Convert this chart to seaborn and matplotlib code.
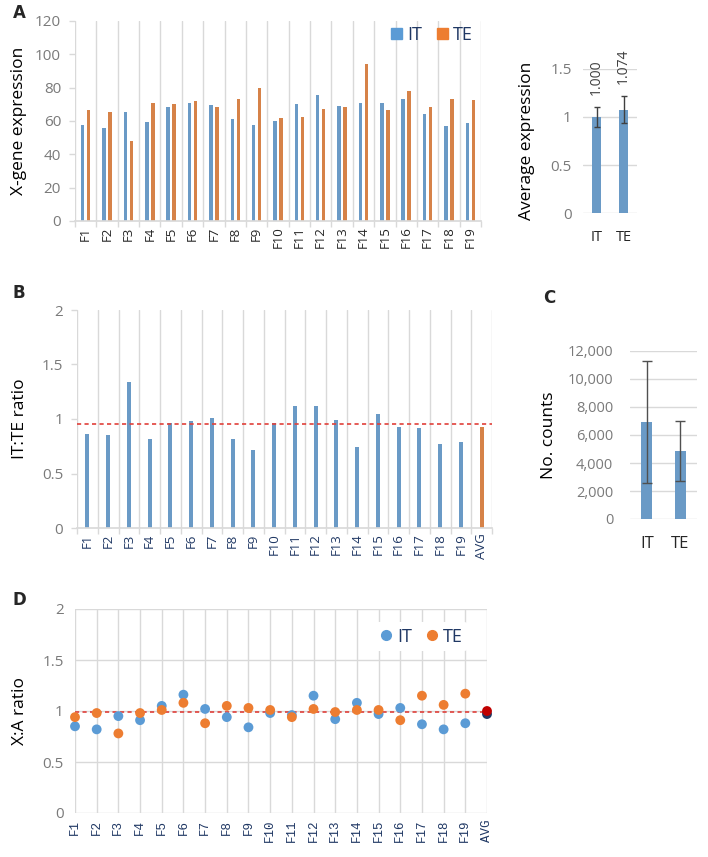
import numpy as np
import pandas as pd
import matplotlib
matplotlib.use('Agg')
import matplotlib.pyplot as plt
from matplotlib.patches import Patch
from matplotlib.lines import Line2D
from matplotlib.ticker import FuncFormatter
import seaborn as sns

# data
families = ['F%d' % i for i in range(1, 20)]
it_expr = [57.8, 55.8, 65.4, 59.2, 68.2, 70.8, 69.8, 61.4, 57.8, 60.2,
           70.2, 75.8, 69.2, 70.6, 70.8, 73.4, 64.0, 57.0, 58.6]
te_expr = [66.8, 65.4, 48.2, 70.6, 70.2, 71.8, 68.2, 73.4, 79.6, 61.8,
           62.6, 67.2, 68.6, 94.4, 66.8, 77.8, 68.6, 73.0, 72.6]

groups = ['IT', 'TE']
avg_expr = [1.000, 1.074]
avg_expr_err = [0.10, 0.14]

ratio_labels = families + ['AVG']
it_te_ratio = [0.86, 0.85, 1.34, 0.82, 0.96, 0.98, 1.01, 0.82, 0.72, 0.96,
               1.12, 1.12, 0.99, 0.74, 1.05, 0.93, 0.92, 0.77, 0.79, 0.93]
ratio_ref = 0.95

counts = [6920, 4850]
counts_err = [4340, 2115]

xa_it = [0.85, 0.82, 0.95, 0.91, 1.05, 1.16, 1.02, 0.94, 0.84, 0.98,
         0.96, 1.15, 0.92, 1.08, 0.97, 1.03, 0.87, 0.82, 0.88, 0.97]
xa_te = [0.94, 0.98, 0.78, 0.98, 1.01, 1.08, 0.88, 1.05, 1.03, 1.01,
         0.94, 1.02, 0.99, 1.01, 1.01, 0.91, 1.15, 1.06, 1.17, 1.00]
xa_ref = 0.99

BLUE = '#5b9bd5'
ORANGE = '#ed7d31'
NAVY = '#203864'
DARKRED = '#c00000'
GRID = '#d9d9d9'
TICK = '#7a7a7a'
RED = '#e0403a'

sns.set_theme(style='white')
plt.rcParams['font.family'] = ['Open Sans', 'DejaVu Sans']

W, H = 708, 857
fig = plt.figure(figsize=(W / 100, H / 100), dpi=100)


def rect(l, t, r, b):
    return [l / W, 1 - b / H, (r - l) / W, (b - t) / H]


def place_ylabel(ax, text, box, x_px, size=12.5):
    l, t, r, b = box
    ax.set_ylabel(text, fontsize=size, color='black')
    ax.yaxis.set_label_coords((x_px - l) / (r - l), 0.5)


def style_yticks(ax, size=11):
    ax.tick_params(axis='y', labelsize=size, labelcolor=TICK, color=GRID,
                   length=4, width=1, pad=6, left=True)


# ---------------- A: X-gene expression per family ----------------
box_a = (75, 21, 481, 221)
ax = fig.add_axes(rect(*box_a))
df_a = pd.DataFrame({'family': families * 2,
                     'group': ['IT'] * 19 + ['TE'] * 19,
                     'value': it_expr + te_expr})
sns.barplot(data=df_a, x='family', y='value', hue='group', palette=[BLUE, ORANGE],
            width=0.56, gap=0.42, errorbar=None, legend=False, linewidth=0, ax=ax)
ax.set_xlim(-0.5, 18.5)
ax.set_ylim(0, 120)
ax.set_yticks(range(0, 121, 20))
ax.set_xticks(np.arange(-0.5, 19, 1), minor=True)
ax.grid(which='minor', axis='x', color=GRID, lw=1)
ax.tick_params(axis='x', which='major', length=0, labelsize=9.5, labelrotation=90, pad=4)
ax.tick_params(axis='x', which='minor', length=4, color=GRID, bottom=True)
style_yticks(ax)
for s in ['top', 'right', 'left']:
    ax.spines[s].set_visible(False)
ax.spines['bottom'].set_color(GRID)
ax.set_xlabel('')
place_ylabel(ax, 'X-gene expression', box_a, 27)
ax.legend([Patch(color=BLUE), Patch(color=ORANGE)], groups, loc='center right',
          bbox_to_anchor=(1.02, 0.93), ncol=2, frameon=False, fontsize=13,
          labelcolor=NAVY, handlelength=0.6, handleheight=0.6,
          handletextpad=0.3, columnspacing=0.8)

# A inset: average expression
box_ai = (583, 69, 637, 213)
ax = fig.add_axes(rect(*box_ai))
sns.barplot(x=groups, y=avg_expr, color=BLUE, width=0.36, errorbar=None,
            linewidth=0, ax=ax)
ax.errorbar(range(len(groups)), avg_expr, yerr=avg_expr_err, fmt='none',
            ecolor='#404040', elinewidth=1, capsize=2.5, capthick=1)
for i, (v, e) in enumerate(zip(avg_expr, avg_expr_err)):
    ax.annotate('%.3f' % v, (i, v + e), xytext=(0, 9), textcoords='offset points',
                rotation=90, ha='center', va='bottom', fontsize=10, color='#404040',
                annotation_clip=False)
ax.set_xlim(-0.5, 1.5)
ax.set_ylim(0, 1.5)
ax.set_yticks([0, 0.5, 1, 1.5])
ax.set_yticklabels(['0', '0.5', '1', '1.5'])
ax.grid(axis='y', color=GRID, lw=1)
ax.set_axisbelow(True)
style_yticks(ax)
ax.tick_params(axis='y', length=0, pad=8)
ax.tick_params(axis='x', length=0, labelsize=10.5, pad=12)
sns.despine(ax=ax, left=True, bottom=True)
place_ylabel(ax, 'Average expression', box_ai, 535)

# ---------------- B: IT:TE ratio ----------------
box_b = (77, 310, 492, 528)
ax = fig.add_axes(rect(*box_b))
sns.barplot(x=ratio_labels, y=it_te_ratio, hue=ratio_labels,
            palette=[BLUE] * 19 + [ORANGE], width=0.2, legend=False,
            linewidth=0, ax=ax)
ax.axhline(ratio_ref, color=RED, lw=1.2, ls=(0, (2.5, 2)), zorder=5)
ax.set_xlim(-0.5, 19.5)
ax.set_ylim(0, 2)
ax.set_yticks([0, 0.5, 1, 1.5, 2])
ax.set_yticklabels(['0', '0.5', '1', '1.5', '2'])
ax.set_xticks(np.arange(-0.5, 20, 1), minor=True)
ax.grid(which='minor', axis='x', color=GRID, lw=1)
ax.set_axisbelow(True)
ax.tick_params(axis='x', which='major', length=0, labelsize=9.5, labelrotation=90,
               labelcolor=NAVY, pad=4)
ax.tick_params(axis='x', which='minor', length=4, color=GRID, bottom=True)
style_yticks(ax)
for s in ['top', 'right', 'left']:
    ax.spines[s].set_visible(False)
ax.spines['bottom'].set_color(GRID)
place_ylabel(ax, 'IT:TE ratio', box_b, 28)

# ---------------- C: number of counts ----------------
box_c = (630, 351, 697, 519)
ax = fig.add_axes(rect(*box_c))
sns.barplot(x=groups, y=counts, color=BLUE, width=0.33, errorbar=None,
            linewidth=0, ax=ax)
ax.errorbar(range(len(groups)), counts, yerr=counts_err, fmt='none',
            ecolor='#505050', elinewidth=1, capsize=3.5, capthick=1)
ax.set_xlim(-0.5, 1.5)
ax.set_ylim(0, 12000)
ax.set_yticks(range(0, 12001, 2000))
ax.yaxis.set_major_formatter(FuncFormatter(lambda v, p: '{:,.0f}'.format(v)))
ax.grid(axis='y', color=GRID, lw=1)
ax.set_axisbelow(True)
style_yticks(ax, 10.5)
ax.tick_params(axis='y', length=0, pad=12)
ax.tick_params(axis='x', length=0, labelsize=12, pad=12)
sns.despine(ax=ax, left=True, bottom=True)
place_ylabel(ax, 'No. counts', box_c, 557)

# ---------------- D: X:A ratio ----------------
box_d = (75, 609, 487, 813)
ax = fig.add_axes(rect(*box_d))
df_d = pd.DataFrame({
    'family': ratio_labels * 2,
    'ratio': xa_it + xa_te,
    'key': ['IT'] * 19 + ['IT avg'] + ['TE'] * 19 + ['TE avg'],
})
df_d['order'] = [0] * 19 + [2] + [1] * 19 + [3]
df_d = df_d.sort_values('order', kind='stable')
# keep category positions in F1..F19, AVG order
df_d['family'] = pd.Categorical(df_d['family'], categories=ratio_labels, ordered=True)
sns.scatterplot(data=df_d, x=df_d['family'].cat.codes, y='ratio', hue='key',
                palette={'IT': BLUE, 'TE': ORANGE, 'IT avg': NAVY, 'TE avg': DARKRED},
                s=50, edgecolor='none', legend=False, clip_on=False, zorder=4, ax=ax)
ax.axhline(xa_ref, color=RED, lw=1.2, ls=(0, (2.5, 2)), zorder=3)
ax.set_xlim(0, 19)
ax.set_ylim(0, 2)
ax.set_xticks(range(len(ratio_labels)))
ax.set_xticklabels(ratio_labels, rotation=90, color=NAVY, fontsize=9,
                   family=['Liberation Mono', 'DejaVu Sans Mono'])
ax.set_yticks([0, 0.5, 1, 1.5, 2])
ax.set_yticklabels(['0', '0.5', '1', '1.5', '2'])
ax.grid(True, color=GRID, lw=1)
ax.set_axisbelow(True)
ax.tick_params(axis='x', length=0, pad=5)
style_yticks(ax)
ax.tick_params(axis='y', length=0, pad=8)
for s in ax.spines.values():
    s.set_visible(False)
ax.set_xlabel('')
place_ylabel(ax, 'X:A ratio', box_d, 28)
leg = ax.legend([Line2D([], [], marker='o', ls='none', color=BLUE, markersize=7),
                 Line2D([], [], marker='o', ls='none', color=ORANGE, markersize=7)],
                groups, loc='center right', bbox_to_anchor=(0.975, 0.865), ncol=2,
                frameon=True, fontsize=13, labelcolor=NAVY, handletextpad=0.1,
                columnspacing=0.6, borderpad=0.3, handlelength=1.0)
leg.get_frame().set_facecolor('white')
leg.get_frame().set_edgecolor('none')
leg.get_frame().set_alpha(1)

# panel letters
for letter, x, y in [('A', 13, 13), ('B', 13, 293), ('C', 543, 298), ('D', 13, 600)]:
    fig.text(x / W, 1 - y / H, letter, fontsize=12, fontweight='bold',
             ha='left', va='center', family='DejaVu Sans')

fig.savefig('out.png', dpi=100)
